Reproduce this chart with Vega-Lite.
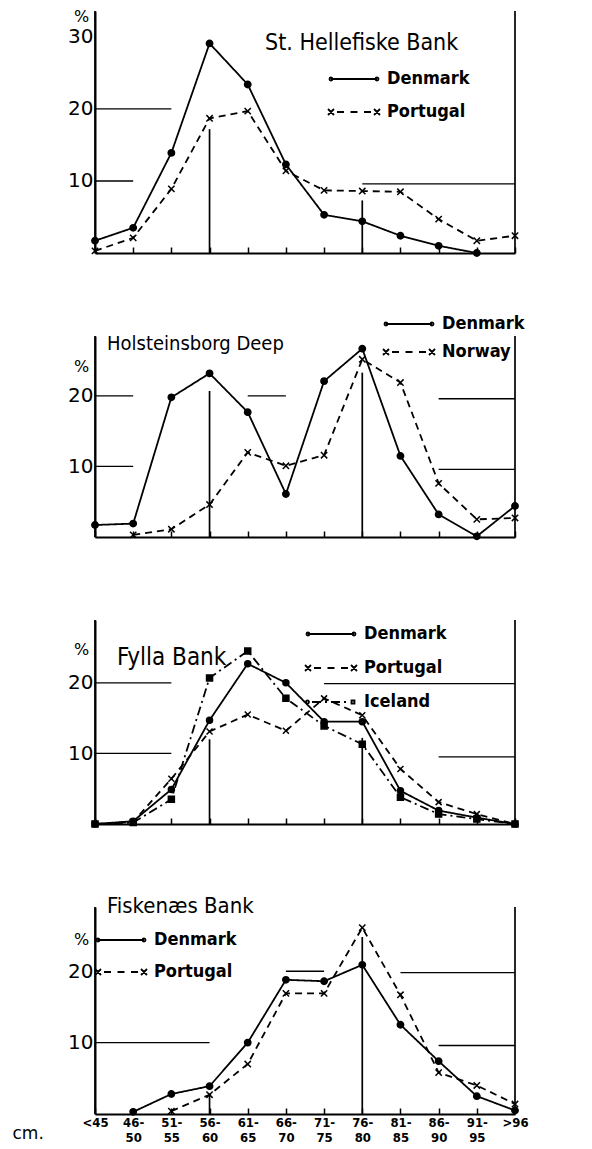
{
  "$schema": "https://vega.github.io/schema/vega-lite/v6.json",
  "background": "white",
  "padding": {"left": 12, "top": 8, "right": 5, "bottom": 5},
  "bounds": "flush",
  "spacing": 83,
  "datasets": {
    "d": [
      {"panel":1,"country":"Denmark","len":"<45","pct":1.7},
      {"panel":1,"country":"Denmark","len":"46-50","pct":3.5},
      {"panel":1,"country":"Denmark","len":"51-55","pct":13.9},
      {"panel":1,"country":"Denmark","len":"56-60","pct":29.1},
      {"panel":1,"country":"Denmark","len":"61-65","pct":23.4},
      {"panel":1,"country":"Denmark","len":"66-70","pct":12.3},
      {"panel":1,"country":"Denmark","len":"71-75","pct":5.3},
      {"panel":1,"country":"Denmark","len":"76-80","pct":4.4},
      {"panel":1,"country":"Denmark","len":"81-85","pct":2.4},
      {"panel":1,"country":"Denmark","len":"86-90","pct":1.0},
      {"panel":1,"country":"Denmark","len":"91-95","pct":0},
      {"panel":1,"country":"Portugal","len":"<45","pct":0.3},
      {"panel":1,"country":"Portugal","len":"46-50","pct":2.1},
      {"panel":1,"country":"Portugal","len":"51-55","pct":8.9},
      {"panel":1,"country":"Portugal","len":"56-60","pct":18.7},
      {"panel":1,"country":"Portugal","len":"61-65","pct":19.7},
      {"panel":1,"country":"Portugal","len":"66-70","pct":11.4},
      {"panel":1,"country":"Portugal","len":"71-75","pct":8.7},
      {"panel":1,"country":"Portugal","len":"76-80","pct":8.6},
      {"panel":1,"country":"Portugal","len":"81-85","pct":8.5},
      {"panel":1,"country":"Portugal","len":"86-90","pct":4.7},
      {"panel":1,"country":"Portugal","len":"91-95","pct":1.7},
      {"panel":1,"country":"Portugal","len":">96","pct":2.4},
      {"panel":2,"country":"Denmark","len":"<45","pct":1.7},
      {"panel":2,"country":"Denmark","len":"46-50","pct":1.9},
      {"panel":2,"country":"Denmark","len":"51-55","pct":19.8},
      {"panel":2,"country":"Denmark","len":"56-60","pct":23.2},
      {"panel":2,"country":"Denmark","len":"61-65","pct":17.7},
      {"panel":2,"country":"Denmark","len":"66-70","pct":6.1},
      {"panel":2,"country":"Denmark","len":"71-75","pct":22.1},
      {"panel":2,"country":"Denmark","len":"76-80","pct":26.7},
      {"panel":2,"country":"Denmark","len":"81-85","pct":11.5},
      {"panel":2,"country":"Denmark","len":"86-90","pct":3.2},
      {"panel":2,"country":"Denmark","len":"91-95","pct":0.1},
      {"panel":2,"country":"Denmark","len":">96","pct":4.4},
      {"panel":2,"country":"Norway","len":"46-50","pct":0.3},
      {"panel":2,"country":"Norway","len":"51-55","pct":1.1},
      {"panel":2,"country":"Norway","len":"56-60","pct":4.6},
      {"panel":2,"country":"Norway","len":"61-65","pct":12.0},
      {"panel":2,"country":"Norway","len":"66-70","pct":10.1},
      {"panel":2,"country":"Norway","len":"71-75","pct":11.6},
      {"panel":2,"country":"Norway","len":"76-80","pct":25.2},
      {"panel":2,"country":"Norway","len":"81-85","pct":21.9},
      {"panel":2,"country":"Norway","len":"86-90","pct":7.6},
      {"panel":2,"country":"Norway","len":"91-95","pct":2.5},
      {"panel":2,"country":"Norway","len":">96","pct":2.7},
      {"panel":3,"country":"Denmark","len":"<45","pct":0},
      {"panel":3,"country":"Denmark","len":"46-50","pct":0.4},
      {"panel":3,"country":"Denmark","len":"51-55","pct":4.9},
      {"panel":3,"country":"Denmark","len":"56-60","pct":14.7},
      {"panel":3,"country":"Denmark","len":"61-65","pct":22.7},
      {"panel":3,"country":"Denmark","len":"66-70","pct":20.0},
      {"panel":3,"country":"Denmark","len":"71-75","pct":14.5},
      {"panel":3,"country":"Denmark","len":"76-80","pct":14.5},
      {"panel":3,"country":"Denmark","len":"81-85","pct":4.7},
      {"panel":3,"country":"Denmark","len":"86-90","pct":1.9},
      {"panel":3,"country":"Denmark","len":"91-95","pct":0.9},
      {"panel":3,"country":"Denmark","len":">96","pct":0},
      {"panel":3,"country":"Portugal","len":"<45","pct":0},
      {"panel":3,"country":"Portugal","len":"46-50","pct":0.3},
      {"panel":3,"country":"Portugal","len":"51-55","pct":6.4},
      {"panel":3,"country":"Portugal","len":"56-60","pct":13.1},
      {"panel":3,"country":"Portugal","len":"61-65","pct":15.5},
      {"panel":3,"country":"Portugal","len":"66-70","pct":13.2},
      {"panel":3,"country":"Portugal","len":"71-75","pct":17.8},
      {"panel":3,"country":"Portugal","len":"76-80","pct":15.4},
      {"panel":3,"country":"Portugal","len":"81-85","pct":7.8},
      {"panel":3,"country":"Portugal","len":"86-90","pct":3.1},
      {"panel":3,"country":"Portugal","len":"91-95","pct":1.4},
      {"panel":3,"country":"Portugal","len":">96","pct":0},
      {"panel":3,"country":"Iceland","len":"<45","pct":0},
      {"panel":3,"country":"Iceland","len":"46-50","pct":0.2},
      {"panel":3,"country":"Iceland","len":"51-55","pct":3.5},
      {"panel":3,"country":"Iceland","len":"56-60","pct":20.7},
      {"panel":3,"country":"Iceland","len":"61-65","pct":24.5},
      {"panel":3,"country":"Iceland","len":"66-70","pct":17.8},
      {"panel":3,"country":"Iceland","len":"71-75","pct":13.9},
      {"panel":3,"country":"Iceland","len":"76-80","pct":11.3},
      {"panel":3,"country":"Iceland","len":"81-85","pct":3.8},
      {"panel":3,"country":"Iceland","len":"86-90","pct":1.4},
      {"panel":3,"country":"Iceland","len":"91-95","pct":0.7},
      {"panel":3,"country":"Iceland","len":">96","pct":0},
      {"panel":4,"country":"Denmark","len":"46-50","pct":0.3},
      {"panel":4,"country":"Denmark","len":"51-55","pct":2.8},
      {"panel":4,"country":"Denmark","len":"56-60","pct":3.9},
      {"panel":4,"country":"Denmark","len":"61-65","pct":10.0},
      {"panel":4,"country":"Denmark","len":"66-70","pct":18.8},
      {"panel":4,"country":"Denmark","len":"71-75","pct":18.6},
      {"panel":4,"country":"Denmark","len":"76-80","pct":20.9},
      {"panel":4,"country":"Denmark","len":"81-85","pct":12.5},
      {"panel":4,"country":"Denmark","len":"86-90","pct":7.4},
      {"panel":4,"country":"Denmark","len":"91-95","pct":2.5},
      {"panel":4,"country":"Denmark","len":">96","pct":0.5},
      {"panel":4,"country":"Portugal","len":"51-55","pct":0.4},
      {"panel":4,"country":"Portugal","len":"56-60","pct":2.7},
      {"panel":4,"country":"Portugal","len":"61-65","pct":7.0},
      {"panel":4,"country":"Portugal","len":"66-70","pct":16.9},
      {"panel":4,"country":"Portugal","len":"71-75","pct":16.9},
      {"panel":4,"country":"Portugal","len":"76-80","pct":26.1},
      {"panel":4,"country":"Portugal","len":"81-85","pct":16.7},
      {"panel":4,"country":"Portugal","len":"86-90","pct":5.8},
      {"panel":4,"country":"Portugal","len":"91-95","pct":4.0},
      {"panel":4,"country":"Portugal","len":">96","pct":1.4}
    ],
    "gh": [
      {"panel":1,"a":"<45","b":"51-55","v":20},
      {"panel":1,"a":"<45","b":"46-50","v":10},
      {"panel":1,"a":"76-80","b":">96","v":9.6},
      {"panel":2,"a":"<45","b":"46-50","v":20},
      {"panel":2,"a":"61-65","b":"66-70","v":20},
      {"panel":2,"a":"86-90","b":">96","v":19.6},
      {"panel":2,"a":"<45","b":"46-50","v":10},
      {"panel":2,"a":"86-90","b":">96","v":9.6},
      {"panel":3,"a":"<45","b":"51-55","v":20},
      {"panel":3,"a":"71-75","b":">96","v":19.9},
      {"panel":3,"a":"<45","b":"51-55","v":10},
      {"panel":3,"a":"86-90","b":">96","v":9.5},
      {"panel":4,"a":"66-70","b":"71-75","v":20},
      {"panel":4,"a":"81-85","b":">96","v":19.8},
      {"panel":4,"a":"<45","b":"56-60","v":10},
      {"panel":4,"a":"86-90","b":">96","v":9.6}
    ],
    "gv": [
      {"panel":1,"at":"<45","bot":0,"top":33.6},
      {"panel":1,"at":"56-60","bot":0,"top":17.2},
      {"panel":1,"at":"76-80","bot":0,"top":7.3},
      {"panel":1,"at":">96","bot":0,"top":33.6},
      {"panel":2,"at":"<45","bot":0,"top":28.5},
      {"panel":2,"at":"56-60","bot":0,"top":20.7},
      {"panel":2,"at":"76-80","bot":0,"top":23.3},
      {"panel":2,"at":">96","bot":0,"top":28.5},
      {"panel":3,"at":"<45","bot":0,"top":28.9},
      {"panel":3,"at":"56-60","bot":0,"top":12.0},
      {"panel":3,"at":"76-80","bot":0,"top":12.2},
      {"panel":3,"at":">96","bot":0,"top":28.9},
      {"panel":4,"at":"<45","bot":0,"top":29},
      {"panel":4,"at":"56-60","bot":0,"top":2.6},
      {"panel":4,"at":"76-80","bot":0,"top":24.8},
      {"panel":4,"at":">96","bot":0,"top":29}
    ]
  },
  "config": {
    "view": {"stroke": null},
    "font": "DejaVu Sans Condensed",
    "axis": {"domain": true, "domainColor": "black", "domainWidth": 2, "tickColor": "black", "labelColor": "black", "titleColor": "black", "grid": false},
    "axisX": {"labels": false, "ticks": true, "tickSize": -6, "tickWidth": 1.5},
    "axisY": {"ticks": false, "labelPadding": 2, "labelFontSize": 20, "labelFont": "DejaVu Sans", "titleAngle": 0, "titleAlign": "center", "titleBaseline": "middle", "titleX": -14, "titleFontSize": 16, "titleFontWeight": "normal", "titleFont": "DejaVu Sans"},
    "legend": {"orient": "none", "symbolSize": 400, "symbolStrokeWidth": 1.8, "symbolStrokeColor": "black", "symbolOpacity": 1, "labelFont": "DejaVu Sans Condensed", "labelFontSize": 18, "labelFontWeight": "bold", "labelColor": "black", "labelOffset": 22, "labelLimit": 0, "padding": 0},
    "title": {"anchor": "start", "frame": "group", "orient": "top", "offset": 0, "baseline": "alphabetic", "font": "DejaVu Sans Condensed", "fontWeight": "normal", "color": "black"}
  },
  "vconcat": [
    {
      "width": 420, "height": 242,
      "title": {"text": "St. Hellefiske Bank", "dx": 170, "dy": 51, "fontSize": 23},
      "resolve": {"scale": {"shape": "independent"}},
      "layer": [
        {"data": {"name": "d"}, "transform": [{"filter": "datum.panel == 1"}],
         "mark": {"type": "line", "color": "black", "strokeWidth": 1.8},
         "encoding": {
           "x": {"field": "len", "type": "ordinal", "sort": ["<45","46-50","51-55","56-60","61-65","66-70","71-75","76-80","81-85","86-90","91-95",">96"], "scale": {"type": "point", "domain": ["<45","46-50","51-55","56-60","61-65","66-70","71-75","76-80","81-85","86-90","91-95",">96"], "padding": 0}, "axis": {"title": null, "domain": true}},
           "y": {"field": "pct", "type": "quantitative", "scale": {"domain": [0, 33.6], "nice": false}, "axis": {"values": [10, 20, 30], "title": "%", "titleY": 5, "domain": true}},
           "strokeDash": {"field": "country", "type": "nominal", "scale": {"domain": ["Denmark", "Portugal", "Norway", "Iceland"], "range": [[1, 0], [7, 5], [7, 5], [9, 4, 2, 4]]}, "legend": null}
         }},
        {"data": {"name": "d"}, "transform": [{"filter": "datum.panel == 1"}],
         "mark": {"type": "point", "filled": true, "color": "black", "stroke": "black", "strokeWidth": 1.5, "size": 40, "opacity": 1},
         "encoding": {
           "x": {"field": "len", "type": "ordinal"},
           "y": {"field": "pct", "type": "quantitative"},
           "shape": {"field": "country", "type": "nominal", "scale": {"domain": ["Denmark", "Portugal", "Norway", "Iceland"], "range": ["circle", "M-1,-1L1,1M-1,1L1,-1", "M-1,-1L1,1M-1,1L1,-1", "square"]}, "legend": null}
         }},
        {"data": {"name": "gh"}, "transform": [{"filter": "datum.panel == 1"}],
         "mark": {"type": "rule", "color": "black", "strokeWidth": 1.3},
         "encoding": {"x": {"field": "a", "type": "ordinal"}, "x2": {"field": "b"}, "y": {"field": "v", "type": "quantitative"}}},
        {"data": {"name": "gv"}, "transform": [{"filter": "datum.panel == 1"}],
         "mark": {"type": "rule", "color": "black", "strokeWidth": 1.7},
         "encoding": {"x": {"field": "at", "type": "ordinal"}, "y": {"field": "bot", "type": "quantitative"}, "y2": {"field": "top"}}},
        {"data": {"name": "d"}, "transform": [{"filter": "datum.panel == 1 && datum.len == '<45'"}],
         "mark": {"type": "point", "filled": false, "color": "black", "strokeWidth": 1.8, "opacity": 0},
         "encoding": {
           "x": {"field": "len", "type": "ordinal"},
           "y": {"field": "pct", "type": "quantitative"},
           "shape": {"field": "country", "type": "nominal", "scale": {"domain": ["Denmark", "Portugal"], "range": ["M-2.3,0H2.3M-2.45,0A0.15,0.15,0,1,0,-2.15,0A0.15,0.15,0,1,0,-2.45,0ZM2.15,0A0.15,0.15,0,1,0,2.45,0A0.15,0.15,0,1,0,2.15,0Z", "M-2.6,-0.3L-2,0.3M-2.6,0.3L-2,-0.3M2,-0.3L2.6,0.3M2,0.3L2.6,-0.3M-1.7,0H-1M-0.35,0H0.35M1,0H1.7"]},
             "legend": {"title": null, "legendX": 248, "legendY": 57, "rowPadding": 13}}
         }}
      ]
    },
    {
      "width": 420, "height": 201,
      "title": {"text": "Holsteinsborg Deep", "dx": 12, "dy": 45, "fontSize": 20},
      "resolve": {"scale": {"shape": "independent"}},
      "layer": [
        {"data": {"name": "d"}, "transform": [{"filter": "datum.panel == 2"}],
         "mark": {"type": "line", "color": "black", "strokeWidth": 1.8},
         "encoding": {
           "x": {"field": "len", "type": "ordinal", "sort": ["<45","46-50","51-55","56-60","61-65","66-70","71-75","76-80","81-85","86-90","91-95",">96"], "scale": {"type": "point", "domain": ["<45","46-50","51-55","56-60","61-65","66-70","71-75","76-80","81-85","86-90","91-95",">96"], "padding": 0}, "axis": {"title": null, "domain": true}},
           "y": {"field": "pct", "type": "quantitative", "scale": {"domain": [0, 28.5], "nice": false}, "axis": {"values": [10, 20], "title": "%", "titleY": 30, "domain": true}},
           "strokeDash": {"field": "country", "type": "nominal", "scale": {"domain": ["Denmark", "Portugal", "Norway", "Iceland"], "range": [[1, 0], [7, 5], [7, 5], [9, 4, 2, 4]]}, "legend": null}
         }},
        {"data": {"name": "d"}, "transform": [{"filter": "datum.panel == 2"}],
         "mark": {"type": "point", "filled": true, "color": "black", "stroke": "black", "strokeWidth": 1.5, "size": 40, "opacity": 1},
         "encoding": {
           "x": {"field": "len", "type": "ordinal"},
           "y": {"field": "pct", "type": "quantitative"},
           "shape": {"field": "country", "type": "nominal", "scale": {"domain": ["Denmark", "Portugal", "Norway", "Iceland"], "range": ["circle", "M-1,-1L1,1M-1,1L1,-1", "M-1,-1L1,1M-1,1L1,-1", "square"]}, "legend": null}
         }},
        {"data": {"name": "gh"}, "transform": [{"filter": "datum.panel == 2"}],
         "mark": {"type": "rule", "color": "black", "strokeWidth": 1.3},
         "encoding": {"x": {"field": "a", "type": "ordinal"}, "x2": {"field": "b"}, "y": {"field": "v", "type": "quantitative"}}},
        {"data": {"name": "gv"}, "transform": [{"filter": "datum.panel == 2"}],
         "mark": {"type": "rule", "color": "black", "strokeWidth": 1.7},
         "encoding": {"x": {"field": "at", "type": "ordinal"}, "y": {"field": "bot", "type": "quantitative"}, "y2": {"field": "top"}}},
        {"data": {"name": "d"}, "transform": [{"filter": "datum.panel == 2 && datum.len == '>96'"}],
         "mark": {"type": "point", "filled": false, "color": "black", "strokeWidth": 1.8, "opacity": 0},
         "encoding": {
           "x": {"field": "len", "type": "ordinal"},
           "y": {"field": "pct", "type": "quantitative"},
           "shape": {"field": "country", "type": "nominal", "scale": {"domain": ["Denmark", "Norway"], "range": ["M-2.3,0H2.3M-2.45,0A0.15,0.15,0,1,0,-2.15,0A0.15,0.15,0,1,0,-2.45,0ZM2.15,0A0.15,0.15,0,1,0,2.45,0A0.15,0.15,0,1,0,2.15,0Z", "M-2.6,-0.3L-2,0.3M-2.6,0.3L-2,-0.3M2,-0.3L2.6,0.3M2,0.3L2.6,-0.3M-1.7,0H-1M-0.35,0H0.35M1,0H1.7"]},
             "legend": {"title": null, "legendX": 303, "legendY": -23, "rowPadding": 8}}
         }}
      ]
    },
    {
      "width": 420, "height": 204,
      "title": {"text": "Fylla Bank", "dx": 22, "dy": 55, "fontSize": 24},
      "resolve": {"scale": {"shape": "independent"}},
      "layer": [
        {"data": {"name": "d"}, "transform": [{"filter": "datum.panel == 3"}],
         "mark": {"type": "line", "color": "black", "strokeWidth": 1.8},
         "encoding": {
           "x": {"field": "len", "type": "ordinal", "sort": ["<45","46-50","51-55","56-60","61-65","66-70","71-75","76-80","81-85","86-90","91-95",">96"], "scale": {"type": "point", "domain": ["<45","46-50","51-55","56-60","61-65","66-70","71-75","76-80","81-85","86-90","91-95",">96"], "padding": 0}, "axis": {"title": null, "domain": true}},
           "y": {"field": "pct", "type": "quantitative", "scale": {"domain": [0, 28.9], "nice": false}, "axis": {"values": [10, 20], "title": "%", "titleY": 29, "domain": true}},
           "strokeDash": {"field": "country", "type": "nominal", "scale": {"domain": ["Denmark", "Portugal", "Norway", "Iceland"], "range": [[1, 0], [7, 5], [7, 5], [9, 4, 2, 4]]}, "legend": null}
         }},
        {"data": {"name": "d"}, "transform": [{"filter": "datum.panel == 3"}],
         "mark": {"type": "point", "filled": true, "color": "black", "stroke": "black", "strokeWidth": 1.5, "size": 36, "opacity": 1},
         "encoding": {
           "x": {"field": "len", "type": "ordinal"},
           "y": {"field": "pct", "type": "quantitative"},
           "shape": {"field": "country", "type": "nominal", "scale": {"domain": ["Denmark", "Portugal", "Norway", "Iceland"], "range": ["circle", "M-1,-1L1,1M-1,1L1,-1", "M-1,-1L1,1M-1,1L1,-1", "square"]}, "legend": null}
         }},
        {"data": {"name": "gh"}, "transform": [{"filter": "datum.panel == 3"}],
         "mark": {"type": "rule", "color": "black", "strokeWidth": 1.3},
         "encoding": {"x": {"field": "a", "type": "ordinal"}, "x2": {"field": "b"}, "y": {"field": "v", "type": "quantitative"}}},
        {"data": {"name": "gv"}, "transform": [{"filter": "datum.panel == 3"}],
         "mark": {"type": "rule", "color": "black", "strokeWidth": 1.7},
         "encoding": {"x": {"field": "at", "type": "ordinal"}, "y": {"field": "bot", "type": "quantitative"}, "y2": {"field": "top"}}},
        {"data": {"name": "d"}, "transform": [{"filter": "datum.panel == 3 && datum.len == '<45'"}],
         "mark": {"type": "point", "filled": false, "color": "black", "strokeWidth": 1.8, "opacity": 0},
         "encoding": {
           "x": {"field": "len", "type": "ordinal"},
           "y": {"field": "pct", "type": "quantitative"},
           "shape": {"field": "country", "type": "nominal", "scale": {"domain": ["Denmark", "Portugal", "Iceland"], "range": ["M-2.3,0H2.3M-2.45,0A0.15,0.15,0,1,0,-2.15,0A0.15,0.15,0,1,0,-2.45,0ZM2.15,0A0.15,0.15,0,1,0,2.45,0A0.15,0.15,0,1,0,2.15,0Z", "M-2.6,-0.3L-2,0.3M-2.6,0.3L-2,-0.3M2,-0.3L2.6,0.3M2,0.3L2.6,-0.3M-1.7,0H-1M-0.35,0H0.35M1,0H1.7", "M-2.5,0A0.15,0.15,0,1,0,-2.2,0A0.15,0.15,0,1,0,-2.5,0ZM-1.9,0H-1M-0.6,0H-0.4M0,0H0.9M1.3,0H1.5M2.05,-0.15H2.35V0.15H2.05Z"]},
             "legend": {"title": null, "legendX": 225, "legendY": 3, "rowPadding": 14}}
         }}
      ]
    },
    {
      "width": 420, "height": 207,
      "title": {"text": "Fiskenæs Bank", "dx": 12, "dy": 16, "fontSize": 22},
      "resolve": {"scale": {"shape": "independent"}},
      "layer": [
        {"data": {"name": "d"}, "transform": [{"filter": "datum.panel == 4"}],
         "mark": {"type": "line", "color": "black", "strokeWidth": 1.8},
         "encoding": {
           "x": {"field": "len", "type": "ordinal", "sort": ["<45","46-50","51-55","56-60","61-65","66-70","71-75","76-80","81-85","86-90","91-95",">96"], "scale": {"type": "point", "domain": ["<45","46-50","51-55","56-60","61-65","66-70","71-75","76-80","81-85","86-90","91-95",">96"], "padding": 0},
             "axis": {"domain": true, "labels": true, "labelAngle": 0, "labelFont": "DejaVu Sans Condensed", "labelFontWeight": "bold", "labelFontSize": 13, "labelLineHeight": 15, "labelPadding": 8, "labelBaseline": "top",
               "labelExpr": "indexof(datum.label, '-') > 0 ? [slice(datum.label, 0, indexof(datum.label, '-') + 1), slice(datum.label, indexof(datum.label, '-') + 1)] : datum.label",
               "title": "cm.", "titleX": -83, "titleY": 19, "titleAlign": "left", "titleBaseline": "middle", "titleFontWeight": "normal", "titleFontSize": 17, "titleFont": "DejaVu Sans"}},
           "y": {"field": "pct", "type": "quantitative", "scale": {"domain": [0, 29], "nice": false}, "axis": {"values": [10, 20], "title": "%", "titleY": 32, "domain": true}},
           "strokeDash": {"field": "country", "type": "nominal", "scale": {"domain": ["Denmark", "Portugal", "Norway", "Iceland"], "range": [[1, 0], [7, 5], [7, 5], [9, 4, 2, 4]]}, "legend": null}
         }},
        {"data": {"name": "d"}, "transform": [{"filter": "datum.panel == 4"}],
         "mark": {"type": "point", "filled": true, "color": "black", "stroke": "black", "strokeWidth": 1.5, "size": 40, "opacity": 1},
         "encoding": {
           "x": {"field": "len", "type": "ordinal"},
           "y": {"field": "pct", "type": "quantitative"},
           "shape": {"field": "country", "type": "nominal", "scale": {"domain": ["Denmark", "Portugal", "Norway", "Iceland"], "range": ["circle", "M-1,-1L1,1M-1,1L1,-1", "M-1,-1L1,1M-1,1L1,-1", "square"]}, "legend": null}
         }},
        {"data": {"name": "gh"}, "transform": [{"filter": "datum.panel == 4"}],
         "mark": {"type": "rule", "color": "black", "strokeWidth": 1.3},
         "encoding": {"x": {"field": "a", "type": "ordinal"}, "x2": {"field": "b"}, "y": {"field": "v", "type": "quantitative"}}},
        {"data": {"name": "gv"}, "transform": [{"filter": "datum.panel == 4"}],
         "mark": {"type": "rule", "color": "black", "strokeWidth": 1.7},
         "encoding": {"x": {"field": "at", "type": "ordinal"}, "y": {"field": "bot", "type": "quantitative"}, "y2": {"field": "top"}}},
        {"data": {"name": "d"}, "transform": [{"filter": "datum.panel == 4 && datum.len == '>96'"}],
         "mark": {"type": "point", "filled": false, "color": "black", "strokeWidth": 1.8, "opacity": 0},
         "encoding": {
           "x": {"field": "len", "type": "ordinal"},
           "y": {"field": "pct", "type": "quantitative"},
           "shape": {"field": "country", "type": "nominal", "scale": {"domain": ["Denmark", "Portugal"], "range": ["M-2.3,0H2.3M-2.45,0A0.15,0.15,0,1,0,-2.15,0A0.15,0.15,0,1,0,-2.45,0ZM2.15,0A0.15,0.15,0,1,0,2.45,0A0.15,0.15,0,1,0,2.15,0Z", "M-2.6,-0.3L-2,0.3M-2.6,0.3L-2,-0.3M2,-0.3L2.6,0.3M2,0.3L2.6,-0.3M-1.7,0H-1M-0.35,0H0.35M1,0H1.7"]},
             "legend": {"title": null, "legendX": 15, "legendY": 22, "rowPadding": 12}}
         }}
      ]
    }
  ]
}
